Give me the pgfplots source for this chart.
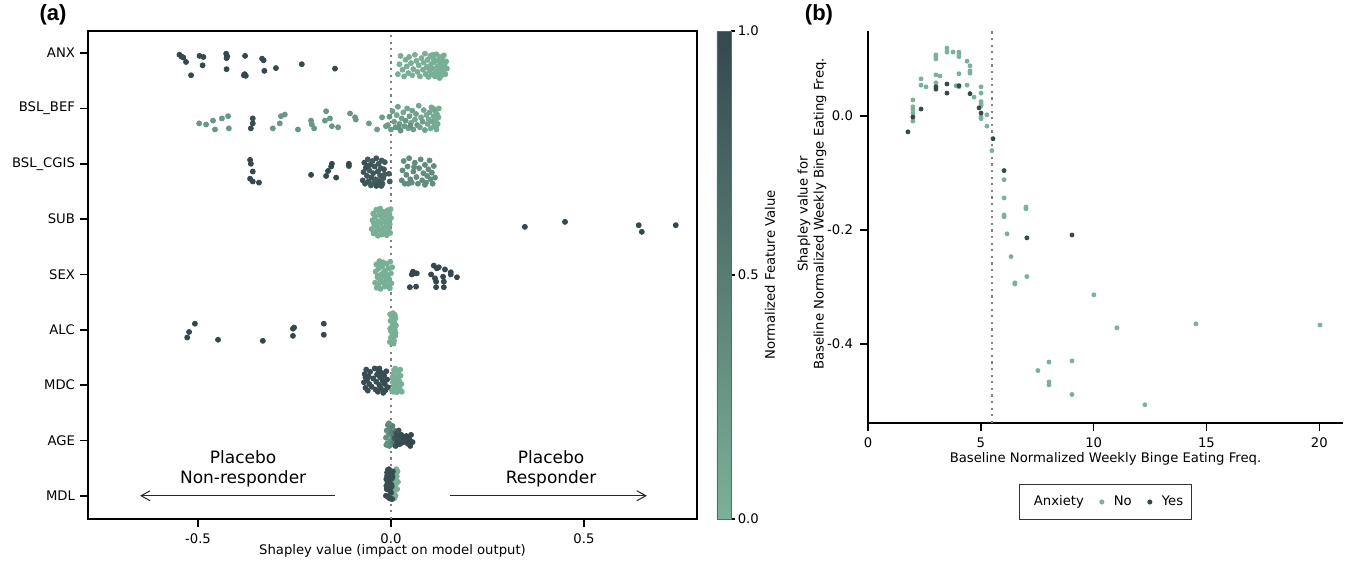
\documentclass[border=0pt]{standalone}
\usepackage{pgfplots}
\pgfplotsset{compat=1.18}
\usetikzlibrary{arrows.meta}
\usepackage{fontspec}
\setmainfont{DejaVu Sans}
\newfontfamily\labelfont{Liberation Sans}
\definecolor{cdark}{RGB}{52,72,78}
\definecolor{clight}{RGB}{123,177,152}
\newcommand\tfs{\fontsize{6.6}{8}\selectfont}
\begin{document}
\begin{tikzpicture}
\useasboundingbox (0,0) rectangle (674.5pt,281.5pt);
\node[font=\labelfont\bfseries\fontsize{11}{13}\selectfont] at (26.5pt,274pt) {(a)};
\node[font=\labelfont\bfseries\fontsize{11}{13}\selectfont] at (409.5pt,274pt) {(b)};
\pgfplotsset{colorbar shift/.style={}}
\begin{axis}[
 at={(44pt,22pt)}, anchor=south west,
 width=304.5pt, height=244pt, scale only axis,
 xmin=-0.785, xmax=0.793, ymin=-0.42, ymax=8.40,
 xtick={-0.5,0,0.5}, xticklabels={-0.5,0.0,0.5},
 ytick={0,1,2,3,4,5,6,7,8},
 yticklabels={MDL,AGE,MDC,ALC,SEX,SUB,BSL\_CGIS,BSL\_BEF,ANX},
 tick pos=left, tick align=outside, major tick length=4pt,
 tick style={black, line width=0.8pt},
 axis line style={line width=0.8pt},
 ticklabel style={font=\tfs},
 yticklabel style={xshift=1pt},
 xlabel={Shapley value (impact on model output)},
 xlabel style={font=\tfs, at={(axis description cs:0.5,-0.0656)}, anchor=center},
 colormap={shap}{rgb255(0)=(123,177,152) rgb255(1)=(52,72,78)},
 point meta min=0, point meta max=1,
 colorbar,
 colorbar style={
   at={(parent axis.north east)}, anchor=north west, xshift=10pt,
   width=7pt, height=244pt, scale only axis,
   ytick={0,0.5,1}, yticklabels={0.0,0.5,1.0},
   ytick pos=right, yticklabel pos=right, tick align=outside, major tick length=2pt,
   tick style={black, line width=0.6pt},
   axis line style={line width=0.3pt, black!60},
   yticklabel style={font=\tfs, inner xsep=1.2pt},
   ylabel={Normalized Feature Value},
   ylabel style={font=\tfs, at={(axis description cs:3.79,0.5)}, anchor=center},
 },
]
\addplot[gray, line width=1.1pt, dash pattern=on 1.1pt off 2.2pt] coordinates {(0,-0.42) (0,8.40)};
\addplot[scatter, only marks, mark=*, mark size=1.25pt, point meta=explicit,
  scatter/use mapped color={draw=mapped color, fill=mapped color}]
 table[meta=c] {
x y c
-0.548 7.97 1
-0.543 7.94 1
-0.538 7.92 1
-0.531 7.84 1
-0.518 7.60 1
-0.496 7.95 1
-0.486 7.93 1
-0.488 7.78 1
-0.427 7.99 1
-0.424 7.94 1
-0.426 7.91 1
-0.426 7.71 1
-0.378 7.95 1
-0.379 7.62 1
-0.376 7.59 1
-0.381 7.60 1
-0.334 7.90 1
-0.330 7.87 1
-0.328 7.68 1
-0.298 7.73 1
-0.231 7.80 1
-0.145 7.72 1
0.018 7.62 0.02
0.022 7.80 0.02
0.025 7.95 0.02
0.030 7.70 0.02
0.034 7.58 0.02
0.038 7.88 0.02
0.041 7.76 0.02
0.045 7.64 0.02
0.047 7.93 0.02
0.052 7.82 0.02
0.055 7.60 0.02
0.058 7.71 0.02
0.062 7.97 0.02
0.066 7.86 0.02
0.069 7.66 0.02
0.072 7.78 0.02
0.075 7.58 0.02
0.079 7.91 0.02
0.083 7.70 0.02
0.085 7.83 0.02
0.088 7.99 0.02
0.090 7.62 0.02
0.093 7.75 0.02
0.095 7.88 0.02
0.097 7.57 0.02
0.100 7.68 0.02
0.102 7.95 0.02
0.104 7.80 0.02
0.106 7.61 0.02
0.108 7.72 0.02
0.110 7.90 0.02
0.112 7.84 0.02
0.114 7.58 0.02
0.116 7.66 0.02
0.118 7.98 0.02
0.120 7.76 0.02
0.121 7.87 0.02
0.123 7.62 0.02
0.125 7.70 0.02
0.127 7.93 0.02
0.128 7.81 0.02
0.130 7.59 0.02
0.131 7.74 0.02
0.133 7.88 0.02
0.135 7.66 0.02
0.137 7.96 0.02
0.139 7.79 0.02
0.141 7.62 0.02
0.143 7.85 0.02
0.145 7.72 0.02
0.108 7.97 0.02
0.126 7.55 0.02
0.098 7.73 0.02
0.119 7.64 0.02
0.136 7.83 0.02
-0.497 6.73 0.25
-0.479 6.71 0.25
-0.461 6.78 0.25
-0.456 6.62 0.25
-0.438 6.82 0.25
-0.422 6.86 0.25
-0.420 6.64 0.25
-0.358 6.82 0.95
-0.358 6.73 0.95
-0.363 6.64 0.95
-0.306 6.64 0.25
-0.288 6.73 0.25
-0.285 6.86 0.25
-0.275 6.89 0.25
-0.241 6.62 0.25
-0.207 6.78 0.25
-0.205 6.71 0.25
-0.199 6.64 0.25
-0.168 6.95 0.25
-0.171 6.78 0.25
-0.158 6.82 0.25
-0.153 6.68 0.25
-0.137 6.66 0.25
-0.106 6.91 0.25
-0.093 6.84 0.25
-0.091 6.80 0.25
-0.057 6.73 0.2
-0.036 6.62 0.2
-0.023 6.84 0.2
-0.013 6.68 0.2
-0.008 6.70 0.2
-0.004 6.85 0.25
0.000 6.62 0.2
0.004 6.95 0.15
0.008 6.76 0.2
0.012 6.66 0.25
0.015 6.88 0.1
0.018 7.03 0.15
0.022 6.72 0.2
0.025 6.60 0.3
0.028 6.82 0.15
0.032 6.93 0.1
0.035 6.68 0.2
0.038 6.78 0.25
0.042 7.00 0.1
0.045 6.64 0.15
0.048 6.86 0.2
0.052 6.74 0.1
0.055 6.96 0.15
0.058 6.62 0.2
0.062 6.80 0.1
0.065 6.90 0.15
0.068 6.70 0.25
0.072 7.05 0.1
0.075 6.66 0.15
0.078 6.84 0.1
0.082 6.76 0.2
0.085 6.97 0.1
0.088 6.61 0.15
0.092 6.88 0.05
0.095 6.72 0.1
0.098 6.80 0.05
0.100 6.93 0.1
0.103 6.64 0.05
0.105 7.02 0.05
0.108 6.76 0.1
0.110 6.86 0.05
0.112 6.68 0.05
0.114 6.96 0.05
0.116 6.78 0.05
0.118 6.62 0.05
0.119 6.90 0.05
0.121 6.72 0.05
0.123 6.84 0.05
0.124 7.00 0.05
0.117 6.66 0.05
0.111 6.99 0.1
0.020 6.66 0.3
0.050 6.69 0.3
-0.365 6.07 1
-0.363 6.00 1
-0.358 5.86 1
-0.365 5.73 1
-0.358 5.68 1
-0.342 5.66 1
-0.207 5.80 1
-0.168 5.78 1
-0.163 5.87 1
-0.153 6.00 1
-0.155 5.95 1
-0.142 5.75 1
-0.109 6.00 1
-0.109 5.96 1
-0.073 5.70 0.9
-0.071 5.85 0.85
-0.069 6.02 0.9
-0.067 5.64 0.85
-0.065 5.93 0.9
-0.062 5.78 0.85
-0.060 6.08 0.8
-0.058 5.68 0.85
-0.056 5.88 0.8
-0.054 5.98 0.85
-0.052 5.61 0.8
-0.050 5.75 0.85
-0.048 6.05 0.8
-0.046 5.83 0.85
-0.044 5.66 0.8
-0.042 5.95 0.85
-0.040 5.72 0.8
-0.038 6.10 0.85
-0.036 5.62 0.8
-0.034 5.86 0.85
-0.032 6.00 0.8
-0.030 5.69 0.85
-0.028 5.79 0.8
-0.026 5.92 0.85
-0.024 6.06 0.8
-0.022 5.64 0.85
-0.020 5.74 0.8
-0.018 5.90 0.85
-0.016 5.81 0.8
-0.016 6.03 0.8
-0.005 5.82 0.8
-0.003 5.68 0.8
-0.038 5.60 0.9
-0.060 5.96 0.9
-0.025 5.60 0.85
0.028 5.70 0.35
0.030 5.88 0.35
0.033 6.05 0.35
0.036 5.64 0.35
0.040 5.80 0.35
0.043 5.95 0.35
0.047 6.10 0.35
0.050 5.72 0.35
0.054 5.66 0.35
0.058 5.86 0.35
0.062 6.02 0.35
0.066 5.76 0.35
0.070 5.64 0.35
0.073 5.92 0.35
0.077 6.08 0.35
0.081 5.70 0.35
0.084 5.83 0.35
0.088 5.98 0.35
0.091 5.66 0.35
0.094 5.78 0.35
0.097 5.90 0.35
0.100 6.06 0.35
0.103 5.72 0.35
0.106 5.84 0.35
0.108 5.64 0.35
0.111 5.96 0.35
0.114 5.75 0.35
0.088 5.62 0.35
0.060 5.94 0.35
0.045 5.64 0.35
-0.050 4.82 0.02
-0.048 4.98 0.02
-0.046 5.10 0.02
-0.045 4.74 0.02
-0.043 4.90 0.02
-0.041 5.04 0.02
-0.040 4.78 0.02
-0.038 5.17 0.02
-0.036 4.86 0.02
-0.034 4.70 0.02
-0.033 4.96 0.02
-0.031 5.08 0.02
-0.029 4.80 0.02
-0.028 5.19 0.02
-0.026 4.92 0.02
-0.024 4.72 0.02
-0.022 5.02 0.02
-0.021 4.84 0.02
-0.019 5.13 0.02
-0.017 4.76 0.02
-0.016 4.95 0.02
-0.014 5.06 0.02
-0.012 4.88 0.02
-0.011 4.71 0.02
-0.009 5.16 0.02
-0.007 4.99 0.02
-0.006 4.80 0.02
-0.004 5.09 0.02
-0.003 4.91 0.02
-0.002 4.75 0.02
0.000 5.02 0.02
-0.001 5.18 0.02
-0.010 4.96 0.02
-0.020 4.84 0.02
-0.030 5.12 0.02
-0.044 4.93 0.02
-0.008 4.86 0.02
-0.025 5.05 0.02
0.347 4.86 1
0.451 4.95 1
0.642 4.89 1
0.650 4.77 1
0.738 4.89 1
-0.041 3.85 0.02
-0.040 4.05 0.02
-0.038 4.18 0.02
-0.037 3.76 0.02
-0.035 3.95 0.02
-0.033 4.10 0.02
-0.032 3.82 0.02
-0.030 4.24 0.02
-0.028 3.90 0.02
-0.027 3.74 0.02
-0.025 4.00 0.02
-0.023 4.14 0.02
-0.022 3.86 0.02
-0.020 4.22 0.02
-0.018 3.96 0.02
-0.016 3.78 0.02
-0.015 4.07 0.02
-0.013 3.88 0.02
-0.011 4.19 0.02
-0.010 3.80 0.02
-0.008 3.99 0.02
-0.006 4.11 0.02
-0.005 3.92 0.02
-0.003 3.75 0.02
-0.002 4.23 0.02
0.000 4.02 0.02
0.001 3.84 0.02
0.003 4.13 0.02
-0.019 4.04 0.02
-0.034 3.98 0.02
-0.009 3.90 0.02
-0.029 4.16 0.02
0.057 4.05 1
0.062 4.02 1
0.054 4.00 1
0.067 4.02 1
0.049 3.77 1
0.065 3.78 1
0.111 4.16 1
0.119 4.11 1
0.124 4.13 1
0.104 4.00 1
0.114 3.93 1
0.117 3.87 1
0.117 3.77 1
0.135 3.96 1
0.137 3.87 1
0.137 3.77 1
0.140 4.09 1
0.155 4.04 1
0.155 4.00 1
0.171 3.95 1
-0.528 2.86 1
-0.523 2.96 1
-0.508 3.11 1
-0.448 2.82 1
-0.332 2.80 1
-0.254 3.02 1
-0.251 3.04 1
-0.254 2.89 1
-0.174 3.11 1
-0.174 2.91 1
-0.003 2.78 0.02
0.000 2.86 0.02
0.003 2.95 0.02
0.006 3.04 0.02
0.009 3.12 0.02
0.012 3.21 0.02
-0.002 3.28 0.02
0.001 2.76 0.02
0.004 2.83 0.02
0.007 2.92 0.02
0.010 3.00 0.02
0.013 3.08 0.02
-0.001 3.16 0.02
0.002 3.24 0.02
0.005 3.30 0.02
0.008 2.80 0.02
0.011 2.89 0.02
0.000 2.98 0.02
0.003 3.06 0.02
0.006 3.14 0.02
0.009 3.22 0.02
0.012 2.94 0.02
-0.002 3.02 0.02
0.004 3.18 0.02
0.007 2.75 0.02
0.010 3.27 0.02
-0.070 2.05 0.95
-0.068 2.20 0.95
-0.066 1.95 0.95
-0.064 2.28 0.95
-0.062 2.10 0.95
-0.060 1.90 0.95
-0.058 2.16 0.95
-0.056 2.02 0.95
-0.054 2.24 0.95
-0.050 1.97 0.95
-0.046 2.12 0.95
-0.042 2.30 0.95
-0.040 1.92 0.95
-0.038 2.06 0.95
-0.036 2.19 0.95
-0.034 1.88 0.95
-0.032 2.26 0.95
-0.030 2.00 0.95
-0.028 2.14 0.95
-0.026 1.94 0.95
-0.024 2.22 0.95
-0.022 2.08 0.95
-0.020 1.86 0.95
-0.018 2.17 0.95
-0.016 2.02 0.95
-0.014 1.91 0.95
-0.012 2.25 0.95
-0.010 2.10 0.95
-0.008 1.96 0.95
-0.066 2.14 0.95
-0.030 2.30 0.95
-0.018 1.89 0.95
0.003 1.90 0.02
0.005 2.05 0.02
0.007 2.20 0.02
0.009 1.96 0.02
0.011 2.30 0.02
0.013 2.12 0.02
0.015 1.87 0.02
0.017 2.00 0.02
0.019 2.25 0.02
0.021 2.08 0.02
0.023 1.93 0.02
0.025 2.17 0.02
0.027 2.02 0.02
0.028 1.88 0.02
0.004 2.14 0.02
0.008 2.27 0.02
0.012 1.99 0.02
0.016 2.09 0.02
0.020 1.90 0.02
0.024 2.28 0.02
0.006 1.88 0.02
0.018 2.16 0.02
-0.013 1.05 0.3
-0.011 1.18 0.35
-0.009 0.95 0.3
-0.008 1.28 0.4
-0.006 1.10 0.3
-0.004 0.90 0.35
-0.003 1.22 0.4
-0.001 1.00 0.3
0.001 1.14 0.45
0.003 0.93 0.4
0.004 1.26 0.45
0.006 1.06 0.5
0.008 0.98 0.5
0.010 1.17 0.55
-0.012 0.92 0.3
-0.005 1.31 0.35
0.010 1.04 0.85
0.012 0.90 0.9
0.014 1.12 0.9
0.016 0.97 0.95
0.018 1.08 0.9
0.020 1.18 0.85
0.022 0.93 0.95
0.024 1.02 0.9
0.027 1.10 0.95
0.030 0.96 0.95
0.033 1.05 1
0.036 0.99 0.95
0.040 1.08 1
0.044 0.94 1
0.048 1.02 1
0.052 1.10 1
0.056 0.97 1
0.050 0.90 1
0.006 0.05 0.02
0.008 0.18 0.02
0.010 0.30 0.02
0.012 0.42 0.02
0.014 0.48 0.02
0.016 0.12 0.02
0.018 0.25 0.02
0.007 0.37 0.02
0.009 -0.04 0.02
0.011 0.10 0.02
0.013 0.22 0.02
0.015 0.35 0.02
0.017 0.44 0.02
0.006 0.28 0.02
0.012 0.00 0.02
-0.013 0.00 0.95
-0.011 0.12 0.95
-0.009 0.25 0.95
-0.007 0.38 0.95
-0.005 0.48 0.95
-0.003 -0.05 0.95
-0.001 0.08 0.95
0.001 0.20 0.95
0.003 0.32 0.95
0.005 0.44 0.95
-0.012 0.30 0.95
-0.010 0.42 0.95
-0.008 -0.02 0.95
-0.006 0.15 0.95
-0.004 0.28 0.95
-0.002 0.40 0.95
0.000 0.05 0.95
0.002 0.17 0.95
0.004 0.35 0.95
-0.012 0.18 0.95
-0.008 0.47 0.95
-0.004 0.10 0.95
0.000 0.30 0.95
0.003 -0.06 0.95
-0.010 0.36 0.95
-0.006 0.22 0.95
};
\node[font=\fontsize{8.5}{10}\selectfont, align=center] at (axis cs:-0.383,0.49) {Placebo\\Non-responder};
\node[font=\fontsize{8.5}{10}\selectfont, align=center] at (axis cs:0.415,0.49) {Placebo\\Responder};
\draw[-{Straight Barb[length=4.5pt,width=5pt]}, line width=0.5pt, black!85] (axis cs:-0.145,0) -- (axis cs:-0.65,0);
\draw[-{Straight Barb[length=4.5pt,width=5pt]}, line width=0.5pt, black!85] (axis cs:0.153,0) -- (axis cs:0.663,0);
\end{axis}

\begin{axis}[
 at={(434pt,70pt)}, anchor=south west,
 width=237.5pt, height=196pt, scale only axis,
 xmin=0, xmax=21.05, ymin=-0.539, ymax=0.149,
 axis x line*=bottom, axis y line*=left,
 axis line style={-, line width=1pt},
 xtick={0,5,10,15,20}, xticklabels={0,5,10,15,20},
 ytick={-0.4,-0.2,0}, yticklabels={-0.4,-0.2,0.0},
 tick align=outside, major tick length=4pt,
 tick style={black, line width=0.8pt},
 ticklabel style={font=\tfs},
 xlabel={Baseline Normalized Weekly Binge Eating Freq.},
 xlabel style={font=\tfs, at={(axis description cs:0.5,-0.0918)}, anchor=center},
 ylabel={Shapley value for\\Baseline Normalized Weekly Binge Eating Freq.},
 ylabel style={font=\tfs, align=center, at={(axis description cs:-0.118,0.533)}, anchor=center},
 legend style={at={(0.5,-0.2015)}, anchor=center, legend columns=3, draw=black!80,
   line width=0.5pt, font=\tfs, inner xsep=2pt, inner ysep=3.5pt,
   /tikz/every odd column/.append style={column sep=3pt},
   /tikz/every even column/.append style={column sep=6pt}},
 legend cell align=left,
]
\addlegendimage{empty legend}
\addlegendentry{Anxiety}
\addplot[gray, line width=1.1pt, dash pattern=on 1.1pt off 2.2pt, forget plot] coordinates {(5.5,-0.539) (5.5,0.149)};
\addplot[only marks, mark=*, mark size=1pt, color=clight] table {
x y
1.99 0.028
1.99 0.016
1.99 0.012
1.99 0.005
1.99 -0.009
2.35 0.065
2.35 0.054
2.57 0.051
3.01 0.107
3.01 0.104
3.01 0.100
3.01 0.072
3.19 0.070
3.01 0.058
3.50 0.119
3.50 0.112
3.77 0.112
4.03 0.112
4.03 0.109
4.03 0.104
4.03 0.074
3.90 0.053
4.03 0.051
4.39 0.096
4.52 0.088
4.52 0.079
4.52 0.075
4.39 0.054
4.70 0.033
5.01 0.051
5.01 0.040
5.01 0.025
5.01 0.021
5.01 0.018
5.01 -0.002
5.01 -0.005
5.27 0.002
5.27 -0.018
5.49 -0.061
6.03 -0.112
6.03 -0.144
6.03 -0.174
6.03 -0.177
7.00 -0.160
7.00 -0.163
6.16 -0.207
6.34 -0.247
7.04 -0.282
6.51 -0.293
6.51 -0.295
10.01 -0.314
11.03 -0.372
14.53 -0.365
20.03 -0.367
8.02 -0.432
9.04 -0.430
7.53 -0.447
8.02 -0.467
8.02 -0.472
9.04 -0.489
12.27 -0.507
};
\addlegendentry{No}
\addplot[only marks, mark=*, mark size=1pt, color=cdark] table {
x y
1.77 -0.028
1.99 -0.002
2.35 0.012
3.01 0.051
3.01 0.047
3.50 0.056
3.50 0.040
4.03 0.053
4.52 0.039
4.92 0.014
5.01 0.005
5.54 -0.040
6.03 -0.096
7.04 -0.214
9.04 -0.209
};
\addlegendentry{Yes}
\end{axis}
\end{tikzpicture}
\end{document}
